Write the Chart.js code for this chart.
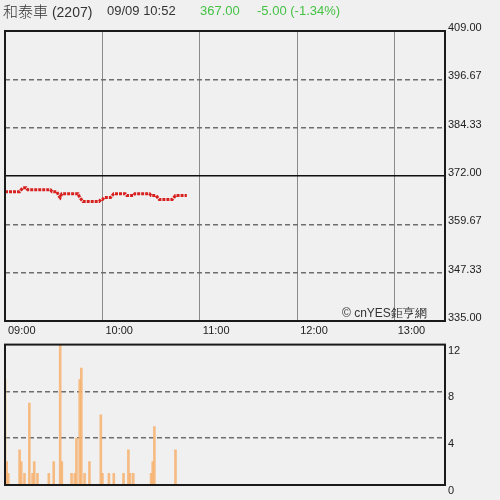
<!DOCTYPE html>
<html lang="zh-Hant">
<head>
  <meta charset="UTF-8">
  <title>和泰車 (2207) 走勢圖</title>
  <script src="https://cdn.jsdelivr.net/npm/chart.js"></script>
  <style>
    body {
      margin: 0;
      background: #f0f0f0;
      font-family: "Liberation Sans", Arial, sans-serif;
    }
    .wrap {
      position: relative;
      width: 500px;
      height: 500px;
    }
    .wrap canvas {
      position: absolute;
      left: 0;
    }
    .head {
      position: absolute;
      top: 2px;
      font-size: 13px;
      line-height: 18px;
      color: #333;
      white-space: nowrap;
    }
    .head.name { font-size: 14px; }
    .head .cjk {
      font-family: "Noto Sans CJK TC", sans-serif;
      font-size: 15px;
      font-weight: 300;
    }
    .up { color: #44c244; }
    #copy {
      position: absolute;
      left: 342px;
      top: 305px;
      font-size: 12px;
      color: #333;
      white-space: nowrap;
    }
  </style>
</head>
<body>

<div class="wrap">
  <canvas id="priceChart" width="500" height="340" style="top:0"></canvas>
  <canvas id="volChart" width="500" height="165" style="top:335px"></canvas>

  <div class="head name" style="left:3px"><span class="cjk">和泰車</span> (2207)</div>
  <div class="head" style="left:107px">09/09 10:52</div>
  <div class="head up" style="left:200px">367.00</div>
  <div class="head up" style="left:257px">-5.00 (-1.34%)</div>
  <div id="copy">© cnYES鉅亨網</div>
</div>

<script>
  // 一分鐘一筆，從 09:00 開始
  const prices = [
    368, 368, 368, 368, 368, 368, 368, 368, 368, 368,
    368.5, 369, 369, 369, 368.5, 368.5, 368.5, 368.5, 368.5, 368.5,
    368.5, 368.5, 368.5, 368.5, 368.5, 368.5, 368.5, 368.5, 368.5, 368,
    368, 368, 368, 367, 366.5, 367.5, 367.5, 367.5, 367.5, 367.5,
    367.5, 367.5, 367.5, 367.5, 367.5, 367.5, 366.5, 366, 365.5, 365.5,
    365.5, 365.5, 365.5, 365.5, 365.5, 365.5, 365.5, 365.5, 365.5, 366,
    366, 366.5, 366.5, 366.5, 366.5, 366.5, 367, 367.5, 367.5, 367.5,
    367.5, 367.5, 367.5, 367.5, 367.5, 367, 367, 367, 367, 367,
    367.5, 367.5, 367.5, 367.5, 367.5, 367.5, 367.5, 367.5, 367.5, 367.5,
    367, 367, 367, 367, 366.5, 366, 366, 366, 366, 366,
    366, 366, 366, 366, 366.5, 367, 367, 367, 367, 367,
    367, 367, 367
  ];

  // 有成交量的分鐘 (距 09:00) 與張數
  const volMinutes = [0, 1, 2, 9, 10, 12, 15, 17, 18, 20, 27, 30, 34, 35, 41, 43, 44,
                      46, 47, 49, 52, 59, 60, 64, 67, 73, 76, 77, 79, 90, 91, 92, 105];
  const volumes    = [9, 2, 1, 3, 2, 1, 7, 1, 2, 1, 1, 2, 12, 2, 1, 1, 4,
                      9, 10, 1, 2, 6, 1, 1, 1, 1, 3, 1, 1, 1, 2, 5, 3];

  const prevClose = 372;
  const priceTicks = [335, 347.33, 359.67, 372, 384.33, 396.67, 409];
  const volTicks = [0, 4, 8, 12];
  const hourTicks = [0, 60, 120, 180, 240];
  const hourLabels = ['09:00', '10:00', '11:00', '12:00', '13:00'];
  const sessionEnd = 271;

  const frame = {
    id: 'frame',
    afterDraw(chart) {
      const { ctx, chartArea: a } = chart;
      ctx.save();
      ctx.strokeStyle = '#1a1a1a';
      ctx.lineWidth = 2;
      ctx.strokeRect(a.left, a.top, a.right - a.left, a.bottom - a.top);
      ctx.restore();
    }
  };

  const tickFont = { family: '"Liberation Sans", Arial, sans-serif', size: 11 };
  const dashGrey = '#6e6e6e';

  new Chart(document.getElementById('priceChart'), {
    type: 'line',
    data: {
      datasets: [{
        data: prices.map((p, i) => ({ x: i, y: p })),
        borderColor: '#d82020',
        borderWidth: 3,
        borderDash: [3, 1],
        pointRadius: 0,
        tension: 0
      }]
    },
    options: {
      responsive: false,
      animation: false,
      devicePixelRatio: 1,
      layout: { padding: { left: 5, top: 31, right: 0, bottom: 0 } },
      plugins: { legend: { display: false }, tooltip: { enabled: false } },
      scales: {
        x: {
          type: 'linear',
          min: 0,
          max: sessionEnd,
          afterBuildTicks: s => { s.ticks = hourTicks.map(v => ({ value: v })); },
          afterFit: s => { s.height = 19; },
          ticks: {
            callback: (v, i) => hourLabels[i],
            align: 'start',
            labelOffset: 3,
            padding: 3,
            maxRotation: 0,
            autoSkip: false,
            font: tickFont,
            color: '#222'
          },
          grid: { color: '#8a8a8a', lineWidth: 1, drawTicks: false },
          border: { display: false }
        },
        y: {
          position: 'right',
          min: 335,
          max: 409,
          afterBuildTicks: s => { s.ticks = priceTicks.map(v => ({ value: v })); },
          afterFit: s => { s.width = 55; },
          ticks: {
            callback: v => v.toFixed(2),
            padding: 3,
            labelOffset: -3,
            font: tickFont,
            color: '#222'
          },
          grid: {
            color: c => c.tick.value === prevClose ? '#111' : dashGrey,
            lineWidth: 1.6,
            drawTicks: false
          },
          border: {
            display: false,
            dash: c => c.tick.value === prevClose ? [] : [5, 3]
          }
        }
      }
    },
    plugins: [frame]
  });

  new Chart(document.getElementById('volChart'), {
    type: 'bar',
    data: {
      datasets: [{
        data: volMinutes.map((m, i) => ({ x: m, y: volumes[i] })),
        backgroundColor: 'rgba(247, 178, 112, 0.85)',
        borderWidth: 0,
        barThickness: 2
      }]
    },
    options: {
      responsive: false,
      animation: false,
      devicePixelRatio: 1,
      layout: { padding: { left: 5, top: 7, right: 0, bottom: 15 } },
      plugins: { legend: { display: false }, tooltip: { enabled: false } },
      scales: {
        x: {
          type: 'linear',
          min: 0,
          max: sessionEnd,
          display: false,
          offset: false,
          grid: { offset: false }
        },
        y: {
          position: 'right',
          min: 0,
          max: 12,
          afterBuildTicks: s => { s.ticks = volTicks.map(v => ({ value: v })); },
          afterFit: s => { s.width = 55; },
          ticks: {
            padding: 3,
            labelOffset: 6,
            font: tickFont,
            color: '#222'
          },
          grid: {
            color: c => (c.tick.value === 0 || c.tick.value === 12) ? 'rgba(0,0,0,0)' : dashGrey,
            lineWidth: 1.6,
            drawTicks: false
          },
          border: { display: false, dash: [5, 3] }
        }
      }
    },
    plugins: [frame]
  });
</script>

</body>
</html>
